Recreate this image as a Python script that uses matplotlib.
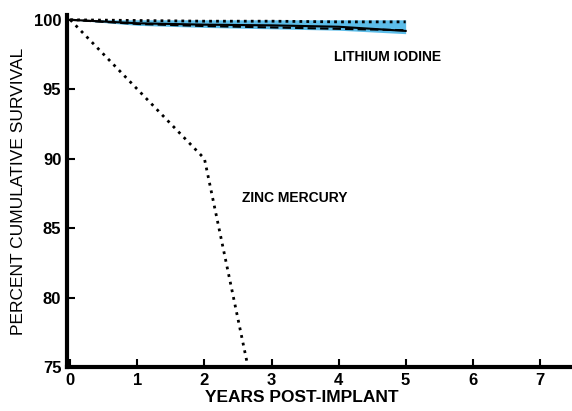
import matplotlib
matplotlib.use('Agg')
import matplotlib.pyplot as plt

plt.rcParams['font.family'] = ['Liberation Sans', 'DejaVu Sans']
plt.rcParams['font.weight'] = 'bold'

# zinc mercury curve
zinc_years = [0, 2, 2.65]
zinc_surv = [100, 90, 75]

# lithium iodine curves
li_years = [0, 1, 2, 3, 4, 5]
li_upper = [100, 99.95, 99.9, 99.9, 99.85, 99.85]
li_dashed = [100, 99.7, 99.55, 99.45, 99.35, 99.25]
li_solid = [100, 99.75, 99.65, 99.6, 99.5, 99.2]
li_band_low = [100, 99.6, 99.45, 99.35, 99.25, 99.0]
li_band_high = [100, 100, 100, 100, 100, 100]

fig = plt.figure(figsize=(5.72, 4.11), dpi=100)
ax = fig.add_axes([0.117, 0.107, 0.883, 0.857])

ax.fill_between(li_years, li_band_low, li_band_high, color='#5cbde9', lw=0)
ax.plot(li_years, li_upper, color='black', ls=(0, (1, 1.5)), lw=2)
ax.plot(li_years, li_dashed, color='black', ls=(0, (4, 2)), lw=1.5)
ax.plot(li_years, li_solid, color='black', ls='-', lw=1.5)
ax.plot(zinc_years, zinc_surv, color='black', ls=(0, (1, 1.8)), lw=2)

ax.text(4.73, 97.3, 'LITHIUM IODINE', ha='center', va='center', fontsize=10, fontweight='bold')
ax.text(3.34, 87.2, 'ZINC MERCURY', ha='center', va='center', fontsize=10, fontweight='bold')

ax.set_xlim(-0.05, 7.48)
ax.set_ylim(75, 100.36)
ax.set_xticks(range(0, 8))
ax.set_yticks([75, 80, 85, 90, 95, 100])

for s in ['top', 'right']:
    ax.spines[s].set_visible(False)
for s in ['left', 'bottom']:
    ax.spines[s].set_linewidth(3)

ax.tick_params(direction='in', length=6, width=1.5, labelsize=12, pad=4)
ax.set_xlabel('YEARS POST-IMPLANT', fontsize=12.5, fontweight='bold', labelpad=0)
ax.xaxis.set_label_coords(0.465, -0.065)
ax.set_ylabel('PERCENT CUMULATIVE SURVIVAL', fontsize=12.5, fontweight='normal', labelpad=6)

fig.savefig('out.png', dpi=100)
